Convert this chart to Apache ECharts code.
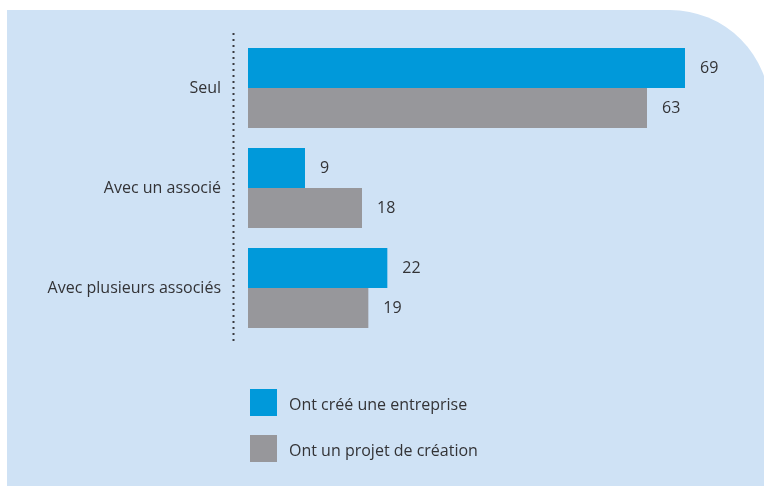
<!DOCTYPE html>
<html>
<head>
<meta charset="utf-8">
<script src="https://cdn.jsdelivr.net/npm/echarts@6/dist/echarts.min.js"></script>
<style>
  html, body { margin: 0; padding: 0; background: #ffffff; }
  #chart { width: 764px; height: 486px; }
</style>
</head>
<body>
<div id="chart"></div>
<script>
// Mode of creation: alone or with partners (%)
const categories = ['Seul', 'Avec un associé', 'Avec plusieurs associés'];
const seriesNames = ['Ont créé une entreprise', 'Ont un projet de création'];
const createdValues = [69, 9, 22];
const projectValues = [63, 18, 19];

const FONT = '"Open Sans", sans-serif';
const TEXT = '#333336';
const SIZE = 16;

const chart = echarts.init(document.getElementById('chart'));

const valueLabel = {
  show: true,
  position: 'right',
  distance: 15,
  fontFamily: FONT,
  fontSize: SIZE,
  color: TEXT
};

chart.setOption({
  animation: false,
  textStyle: { fontFamily: FONT },
  graphic: [
    {
      type: 'rect',
      z: -10,
      shape: { x: 7, y: 10, width: 763, height: 500, r: [0, 100, 0, 0] },
      style: { fill: '#cfe2f5' }
    },
    {
      type: 'line',
      z: 10,
      shape: { x1: 233.5, y1: 33, x2: 233.5, y2: 344 },
      style: { stroke: '#3a3a40', lineWidth: 2, lineDash: [2, 4] }
    }
  ],
  grid: { left: 248, top: 38, height: 300, width: 506.67 },
  xAxis: {
    type: 'value',
    min: 0,
    max: 80,
    show: false
  },
  yAxis: {
    type: 'category',
    data: categories,
    inverse: true,
    axisLine: { show: false },
    axisTick: { show: false },
    axisLabel: {
      margin: 27,
      fontFamily: FONT,
      fontSize: SIZE,
      color: TEXT
    }
  },
  legend: {
    orient: 'vertical',
    left: 250,
    top: 389,
    padding: 0,
    itemWidth: 27,
    itemHeight: 27,
    itemGap: 19,
    icon: 'rect',
    selectedMode: false,
    formatter: '{t|{name}}',
    textStyle: {
      fontFamily: FONT,
      fontSize: SIZE,
      color: TEXT,
      rich: {
        t: { fontFamily: FONT, fontSize: SIZE, color: TEXT, padding: [6, 0, 0, 7] }
      }
    },
    data: seriesNames
  },
  series: [
    {
      name: seriesNames[0],
      type: 'bar',
      data: createdValues,
      barGap: '0%',
      barCategoryGap: '20%',
      itemStyle: { color: '#0099da' },
      label: valueLabel
    },
    {
      name: seriesNames[1],
      type: 'bar',
      data: projectValues,
      barGap: '0%',
      barCategoryGap: '20%',
      itemStyle: { color: '#97979b' },
      label: valueLabel
    }
  ]
});
</script>
</body>
</html>
